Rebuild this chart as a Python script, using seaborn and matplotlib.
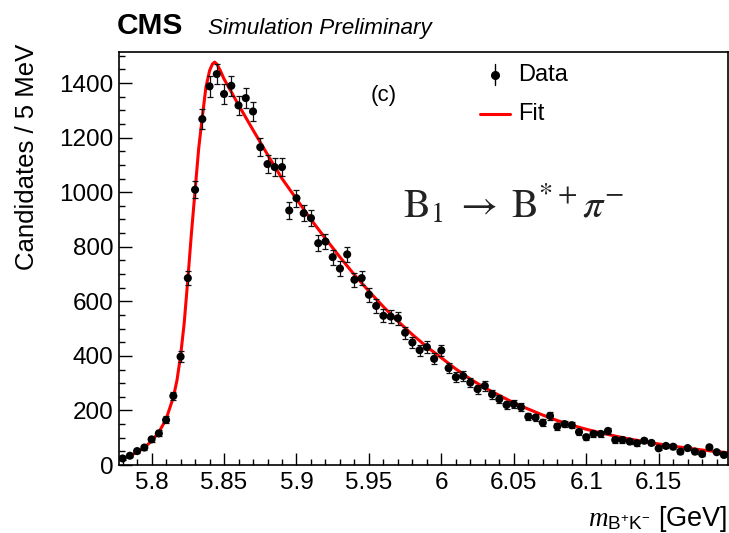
import numpy as np
import pandas as pd
import matplotlib
matplotlib.use("Agg")
import matplotlib.pyplot as plt
import seaborn as sns

# ---- data ----
bin_start = 5.780
bin_width = 0.005
counts = [24, 34, 51, 64, 94, 116, 165, 253, 397, 685,
          1009, 1268, 1388, 1433, 1360, 1390, 1318, 1345, 1296, 1165,
          1103, 1092, 1092, 933, 978, 923, 905, 813, 819, 762,
          720, 772, 679, 685, 624, 583, 547, 544, 538, 485,
          449, 421, 432, 389, 420, 355, 322, 326, 302, 278,
          290, 259, 241, 220, 223, 212, 177, 174, 155, 180,
          141, 150, 146, 121, 102, 114, 114, 125, 92, 92,
          86, 80, 89, 81, 61, 70, 67, 49, 62, 49,
          40, 65, 47, 37]
mass = [round(bin_start + i * bin_width, 4) for i in range(len(counts))]

fit_x = [5.7775, 5.780, 5.785, 5.790, 5.795, 5.800, 5.805, 5.810, 5.815, 5.8175,
         5.820, 5.8225, 5.825, 5.8275, 5.830, 5.8325, 5.835, 5.8375, 5.840, 5.842,
         5.8435, 5.845, 5.8475, 5.850, 5.860, 5.870, 5.880, 5.890, 5.900, 5.910,
         5.920, 5.930, 5.940, 5.950, 5.960, 5.970, 5.980, 5.990, 6.000, 6.010,
         6.020, 6.030, 6.040, 6.050, 6.060, 6.070, 6.080, 6.090, 6.100, 6.110,
         6.120, 6.130, 6.140, 6.150, 6.160, 6.170, 6.180, 6.190, 6.1975]
fit_y = [20, 24, 34, 47, 64, 88, 120, 168, 248, 310,
         400, 520, 680, 850, 1005, 1160, 1275, 1385, 1445, 1470,
         1477, 1470, 1445, 1415, 1320, 1228, 1138, 1050, 975, 900,
         830, 762, 697, 637, 580, 527, 478, 433, 393, 352,
         315, 283, 255, 228, 205, 183, 163, 146, 131, 118,
         106, 95, 86, 77, 69, 62, 55, 49, 45]

x_ticks = [5.8, 5.85, 5.9, 5.95, 6.0, 6.05, 6.1, 6.15]
x_ticklabels = ["5.8", "5.85", "5.9", "5.95", "6", "6.05", "6.1", "6.15"]
y_ticks = [0, 200, 400, 600, 800, 1000, 1200, 1400]

df = pd.DataFrame({"mass": mass, "counts": counts})
df["err"] = np.sqrt(df["counts"])
fit_df = pd.DataFrame({"mass": fit_x, "fit": fit_y})

# ---- style ----
sns.set_theme(style="ticks")
plt.rcParams["font.family"] = ["Liberation Sans", "DejaVu Sans"]
plt.rcParams["mathtext.fontset"] = "custom"
plt.rcParams["mathtext.rm"] = "Liberation Sans"
plt.rcParams["mathtext.it"] = "Liberation Serif:italic"
plt.rcParams["mathtext.bf"] = "Liberation Sans:bold"

W, H = 729, 533
fig = plt.figure(figsize=(W / 100, H / 100), dpi=100)
left, right, top, bottom = 119, 727.5, 51.7, 465
ax = fig.add_axes([left / W, 1 - bottom / H, (right - left) / W, (bottom - top) / H])

# fit curve
sns.lineplot(data=fit_df, x="mass", y="fit", ax=ax, color="#ff0000", lw=2.2,
             zorder=2, sort=True, legend=False)
# data error bars + points
ax.errorbar(df["mass"], df["counts"], yerr=df["err"], fmt="none",
            ecolor="#111111", elinewidth=0.9, capsize=2.2, capthick=0.9, zorder=3)
sns.scatterplot(data=df, x="mass", y="counts", ax=ax, color="black", s=34,
                edgecolor="none", zorder=4, legend=False)

ax.set_xlim(5.7775, 6.1975)
ax.set_ylim(0, 1515)
ax.set_xticks(x_ticks)
ax.set_xticklabels(x_ticklabels)
ax.set_yticks(y_ticks)
ax.xaxis.set_minor_locator(matplotlib.ticker.MultipleLocator(0.01))
ax.yaxis.set_minor_locator(matplotlib.ticker.MultipleLocator(50))
ax.tick_params(axis="both", which="major", direction="in", length=9, width=1.0,
               labelsize=17.5, color="black", labelcolor="black")
ax.tick_params(axis="both", which="minor", direction="in", length=4.5, width=1.0,
               color="black")
ax.tick_params(axis="x", which="major", pad=5)
ax.tick_params(axis="y", which="major", pad=4)
ax.tick_params(top=False, right=False, which="both")
for s in ax.spines.values():
    s.set_visible(True)
    s.set_linewidth(1.2)
    s.set_color("black")
ax.set_xlabel("")
ax.set_ylabel("")

# axis titles
fig.text(27 / W, 1 - 44 / H, "Candidates / 5 MeV", rotation=90, ha="center", va="top",
         fontsize=18.5, color="black")
fig.text(727 / W, 1 - 526 / H, r"$m_{\mathrm{B^{+}K^{-}}}$ [GeV]", ha="right",
         va="baseline", fontsize=19.5, color="black")

# header
fig.text(117 / W, 1 - 34 / H, "CMS", fontsize=21.5, fontweight="bold", ha="left",
         va="baseline", color="black")
fig.text(208 / W, 1 - 34 / H, "Simulation Preliminary", fontsize=16.2, style="italic",
         ha="left", va="baseline", color="black")

# legend (drawn by hand in figure pixel coordinates)
def fx(px):
    return px / W

def fy(py):
    return 1 - py / H

fig.add_artist(plt.Line2D([fx(495), fx(495)], [fy(64), fy(85)], color="black", lw=1.0))
fig.add_artist(plt.Line2D([fx(495)], [fy(74.5)], marker="o", color="black",
                          markersize=5.5, linestyle="none"))
fig.text(fx(518), fy(74.5), "Data", fontsize=17, ha="left", va="center", color="black")
fig.add_artist(plt.Line2D([fx(480), fx(510)], [fy(114), fy(114)], color="#ff0000", lw=2.2))
fig.text(fx(518), fy(114), "Fit", fontsize=17, ha="left", va="center", color="black")

# annotations
fig.text(fx(384), fy(95), "(c)", fontsize=16, ha="center", va="center", color="black")
fig.text(fx(514), fy(204), r"$\mathrm{B}_1\;\rightarrow\;\mathrm{B}^{*+}\pi^{-}$",
         fontsize=29, ha="center", va="center", color="#222222", math_fontfamily="stix")

fig.savefig("out.png", dpi=100)
